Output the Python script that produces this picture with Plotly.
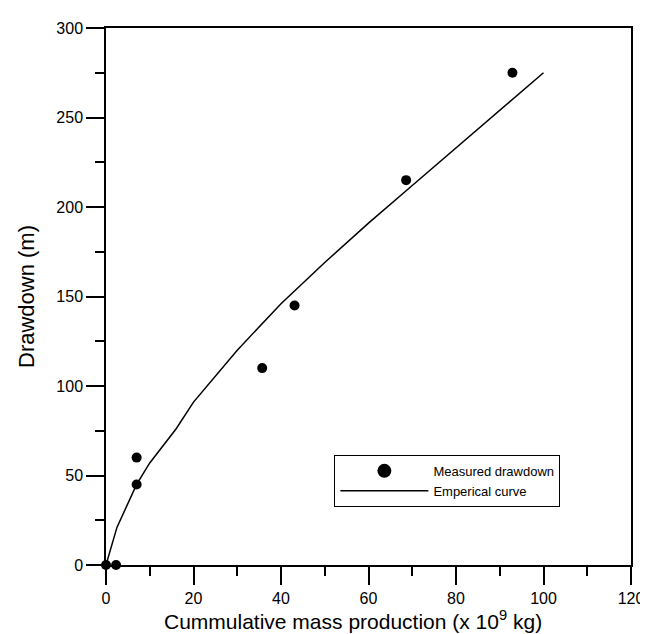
import plotly.graph_objects as go

# Measured drawdown points
measured_x = [0, 2.3, 7, 7, 35.7, 43.1, 68.6, 92.9]
measured_y = [0, 0, 45, 60, 110, 145, 215, 275]

# Emperical curve
curve_x = [0, 2.5, 7, 10, 16, 20, 30, 40, 50, 60, 70, 80, 90, 100]
curve_y = [0, 21, 45, 57, 76, 91, 120, 146, 169, 191, 212, 233, 254, 275]

x_ticks = [0, 20, 40, 60, 80, 100, 120]
y_ticks = [0, 50, 100, 150, 200, 250, 300]

x_title = "Cummulative mass production (x 10<sup>9</sup> kg)"
y_title = "Drawdown (m)"

FONT = "Liberation Sans, Arial, sans-serif"

fig = go.Figure()
fig.add_trace(go.Scatter(
    x=measured_x, y=measured_y, mode="markers", name="Measured drawdown",
    marker=dict(color="black", size=10), cliponaxis=False, showlegend=False))
# legend entry for the measured points (larger symbol, as in the original legend)
fig.add_trace(go.Scatter(
    x=[None], y=[None], mode="markers", name="Measured drawdown",
    marker=dict(color="black", size=14)))
fig.add_trace(go.Scatter(
    x=curve_x, y=curve_y, mode="lines", name="Emperical curve",
    line=dict(color="black", width=1.5)))

axis_common = dict(
    showgrid=False, zeroline=False, showline=True, linecolor="black", linewidth=1.5,
    mirror=True, ticks="outside", ticklen=18, tickwidth=1.5, tickcolor="black",
    tickfont=dict(family=FONT, size=16, color="black"),
    ticklabeloverflow="allow",
)

fig.update_xaxes(
    range=[0, 120], tickvals=x_ticks,
    minor=dict(ticks="outside", ticklen=9, tickwidth=1.5, tickcolor="black", dtick=10, tick0=0),
    **axis_common)
fig.update_yaxes(
    range=[0, 300], tickvals=y_ticks,
    minor=dict(ticks="outside", ticklen=9, tickwidth=1.5, tickcolor="black", dtick=25, tick0=0),
    title=dict(text=y_title, font=dict(family=FONT, size=22, color="black"), standoff=16),
    **axis_common)

fig.add_annotation(
    text=x_title, xref="paper", yref="paper", x=0.47, y=0, yshift=-40,
    xanchor="center", yanchor="top", showarrow=False,
    font=dict(family=FONT, size=21, color="black"))

fig.update_layout(
    width=648, height=634,
    margin=dict(l=98, r=16, t=17, b=77),
    paper_bgcolor="white", plot_bgcolor="white",
    showlegend=True,
    legend=dict(x=0.435, y=0.205, xanchor="left", yanchor="top",
                bordercolor="black", borderwidth=1, bgcolor="white",
                font=dict(family=FONT, size=13, color="black"),
                itemwidth=88, tracegroupgap=0),
)

fig.write_html("out.html")
